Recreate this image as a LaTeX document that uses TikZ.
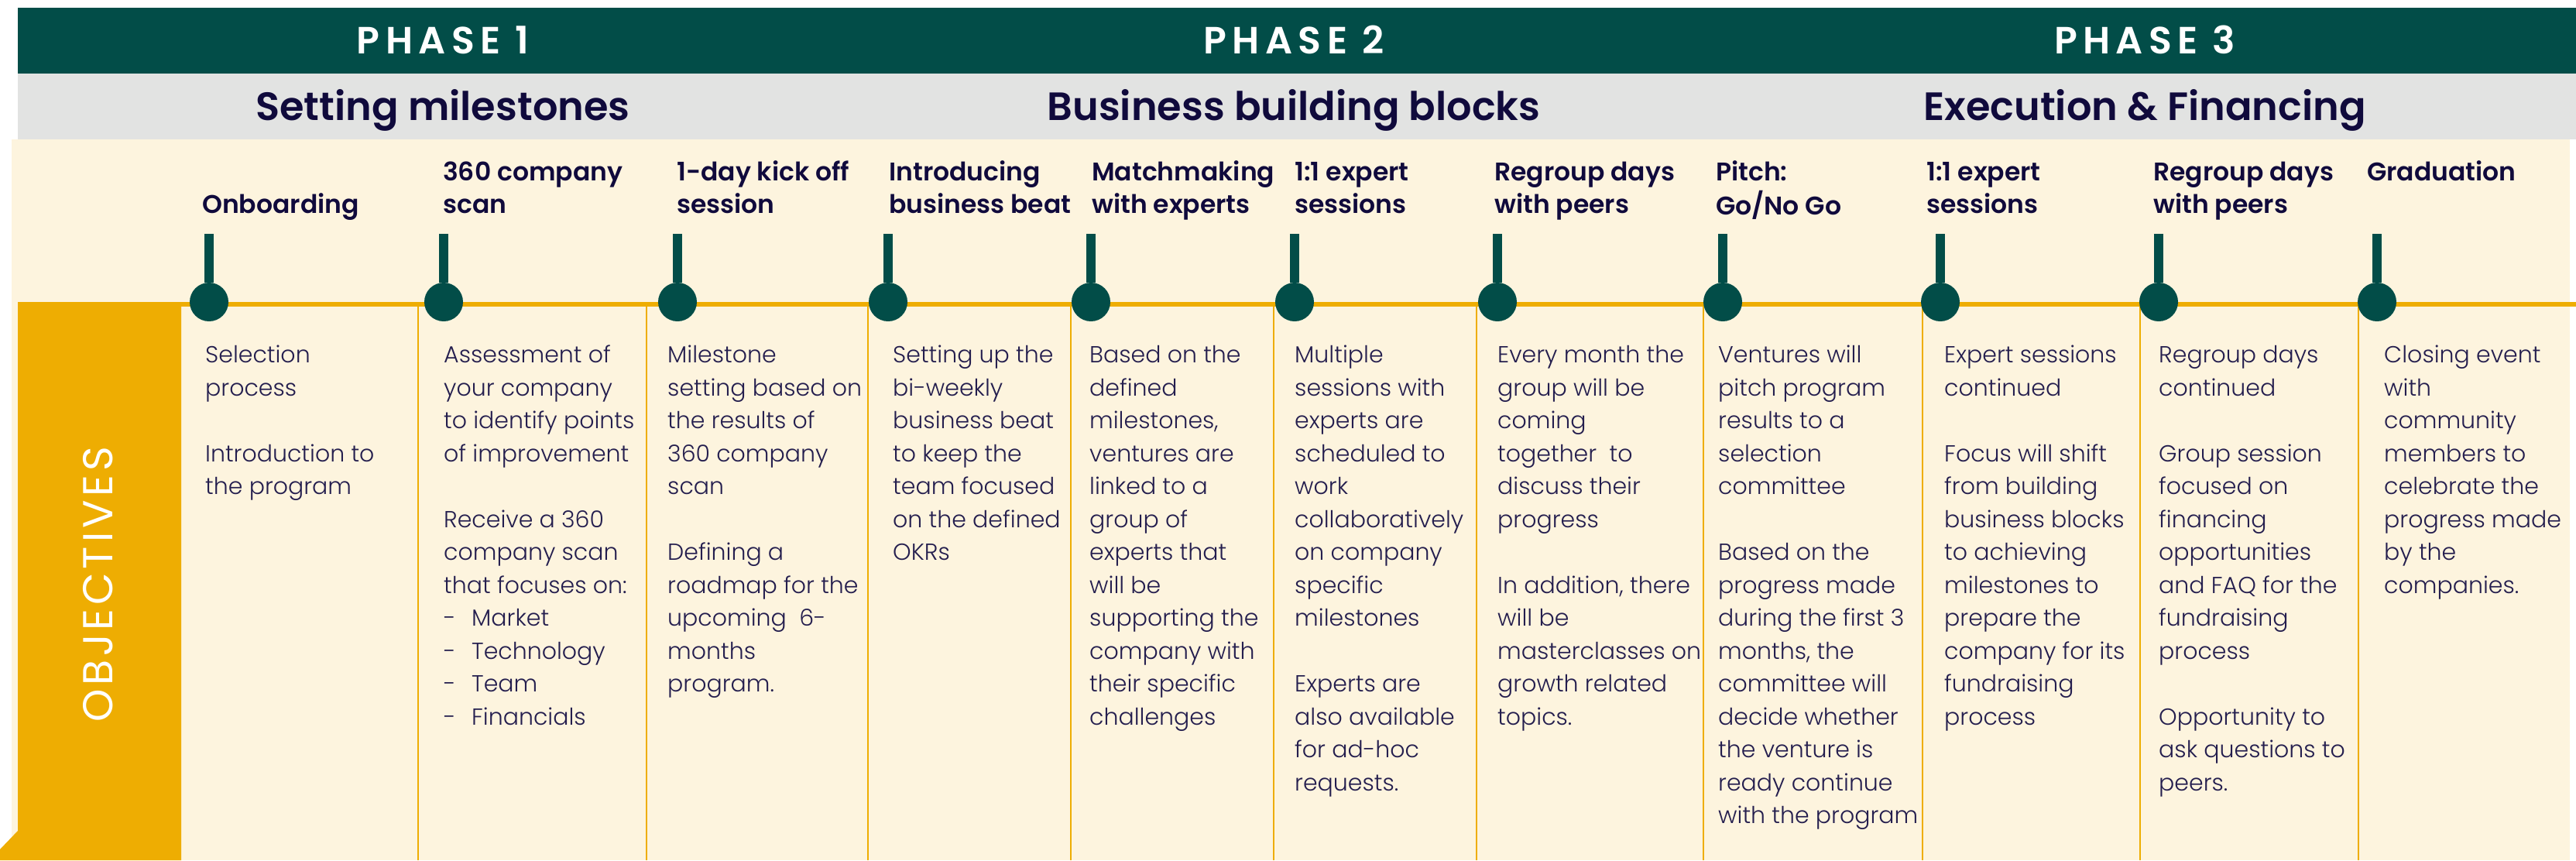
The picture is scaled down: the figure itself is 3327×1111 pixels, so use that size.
\documentclass[tikz,border=0pt]{standalone}
\usepackage{fontspec}
\setmainfont{Poppins}
\newfontfamily\semib{Poppins SemiBold}
\newfontfamily\lightf{Poppins Light}
\definecolor{dkgreen}{RGB}{2,77,72}
\definecolor{lgray}{RGB}{226,227,226}
\definecolor{cream}{RGB}{253,244,222}
\definecolor{gold}{RGB}{238,173,2}
\definecolor{navy}{RGB}{16,10,60}
\definecolor{bodytxt}{RGB}{36,30,78}
\newcommand\lines[1]{\begin{tabular}[t]{@{}l@{}}#1\end{tabular}}
\newcommand\itm[1]{\makebox[36pt][l]{-}#1}
\tikzset{
  phasetitle/.style={text=white, inner sep=0, anchor=base, font=\semib\fontsize{49}{50}\selectfont\addfontfeature{LetterSpace=15}},
  subtitle/.style={text=navy, inner sep=0, anchor=base, font=\semib\fontsize{51}{54}\selectfont},
  headtxt/.style={text=navy, inner sep=0, anchor=base west, font=\semib\fontsize{33}{42.5}\selectfont},
  bodytxtst/.style={text=bodytxt, inner sep=0, anchor=base west, font=\lightf\fontsize{30}{42.5}\selectfont},
  dot/.style={circle, fill=dkgreen, minimum size=50pt, inner sep=0},
  stem/.style={draw=dkgreen, line width=12pt},
  sep/.style={draw=gold, line width=2.5pt}
}
\begin{document}
\begin{tikzpicture}[x=1pt,y=-1pt]
\useasboundingbox (0,0) rectangle (3327,1111);
\fill[white] (0,0) rectangle (3327,1111);
% bands
\fill[dkgreen] (23,10) rectangle (3327,95);
\fill[lgray] (23,95) rectangle (3327,180);
\fill[cream] (15,180) rectangle (3319,1111);
\fill[gold] (23,390) rectangle (3327,396);
\fill[gold] (23,390) -- (234,390) -- (234,1111) -- (0,1111) -- (0,1097) -- (23,1073) -- cycle;
% column separators
\foreach \cx in {540,835,1121,1383,1645,1907,2200,2483,2764,3046}
  \draw[sep] (\cx,396) -- (\cx,1111);
% phase titles
\node[phasetitle] (p1) at (572,69) {PHASE 1};
\node[phasetitle] (p2) at (1671,69) {PHASE 2};
\node[phasetitle] (p3) at (2770,69) {PHASE 3};
\node[subtitle] (s1) at (572,155) {Setting milestones};
\node[subtitle] (s2) at (1671,155) {Business building blocks};
\node[subtitle] (s3) at (2770,155) {Execution \& Financing};
% objectives
\node[text=white, inner sep=0, rotate=90, font=\fontsize{54}{56}\selectfont\addfontfeature{LetterSpace=9}] (obj) at (127,755) {OBJECTIVES};
% stems and dots
\foreach \i/\cx in {1/270,2/573,3/875,4/1147,5/1409,6/1672,7/1934,8/2225,9/2506,10/2788,11/3070}{
  \node[dot] (d\i) at (\cx,390) {};
  \coordinate (t\i) at (\cx,302);
  \draw[stem] (t\i) -- (d\i.north);
}
% headers
\node[headtxt] (h1) at (261,275) {Onboarding};
\node[headtxt] (h2) at (572,233) {\lines{360 company\\scan}};
\node[headtxt] (h3) at (874,233) {\lines{1-day kick off\\session}};
\node[headtxt] (h4) at (1148,233) {\lines{Introducing\\business beat}};
\node[headtxt] (h5) at (1410,233) {\lines{Matchmaking\\with experts}};
\node[headtxt] (h6) at (1672,233) {\lines{1:1 expert\\sessions}};
\node[headtxt] (h7) at (1930,233) {\lines{Regroup days\\with peers}};
\node[headtxt] (h8) at (2216,233) {\lines{Pitch:\\Go/No Go}};
\node[headtxt] (h9) at (2488,233) {\lines{1:1 expert\\sessions}};
\node[headtxt] (h10) at (2781,233) {\lines{Regroup days\\with peers}};
\node[headtxt] (h11) at (3057,233) {Graduation};
% bodies
\node[bodytxtst] (b1) at (265,468.6) {\lines{Selection\\process\\ \\Introduction to\\the program}};
\node[bodytxtst] (b2) at (573,468.6) {\lines{Assessment of\\your company\\to identify points\\of improvement\\ \\Receive a 360\\company scan\\that focuses on:\\\itm{Market}\\\itm{Technology}\\\itm{Team}\\\itm{Financials}}};
\node[bodytxtst] (b3) at (862,468.6) {\lines{Milestone\\setting based on\\the results of\\360 company\\scan\\ \\Defining a\\roadmap for the\\upcoming\ \ 6-\\months\\program.}};
\node[bodytxtst] (b4) at (1153,468.6) {\lines{Setting up the\\bi-weekly\\business beat\\to keep the\\team focused\\on the defined\\OKRs}};
\node[bodytxtst] (b5) at (1407,468.6) {\lines{Based on the\\defined\\milestones,\\ventures are\\linked to a\\group of\\experts that\\will be\\supporting the\\company with\\their specific\\challenges}};
\node[bodytxtst] (b6) at (1672,468.6) {\lines{Multiple\\sessions with\\experts are\\scheduled to\\work\\collaboratively\\on company\\specific\\milestones\\ \\Experts are\\also available\\for ad-hoc\\requests.}};
\node[bodytxtst] (b7) at (1934,468.6) {\lines{Every month the\\group will be\\coming\\together\ \ to\\discuss their\\progress\\ \\In addition, there\\will be\\masterclasses on\\growth related\\topics.}};
\node[bodytxtst] (b8) at (2219,468.6) {\lines{Ventures will\\pitch program\\results to a\\selection\\committee\\ \\Based on the\\progress made\\during the first 3\\months, the\\committee will\\decide whether\\the venture is\\ready continue\\with the program}};
\node[bodytxtst] (b9) at (2511,468.6) {\lines{Expert sessions\\continued\\ \\Focus will shift\\from building\\business blocks\\to achieving\\milestones to\\prepare the\\company for its\\fundraising\\process}};
\node[bodytxtst] (b10) at (2788,468.6) {\lines{Regroup days\\continued\\ \\Group session\\focused on\\financing\\opportunities\\and FAQ for the\\fundraising\\process\\ \\Opportunity to\\ask questions to\\peers.}};
\node[bodytxtst] (b11) at (3079,468.6) {\lines{Closing event\\with\\community\\members to\\celebrate the\\progress made\\by the\\companies.}};
\end{tikzpicture}
\end{document}
